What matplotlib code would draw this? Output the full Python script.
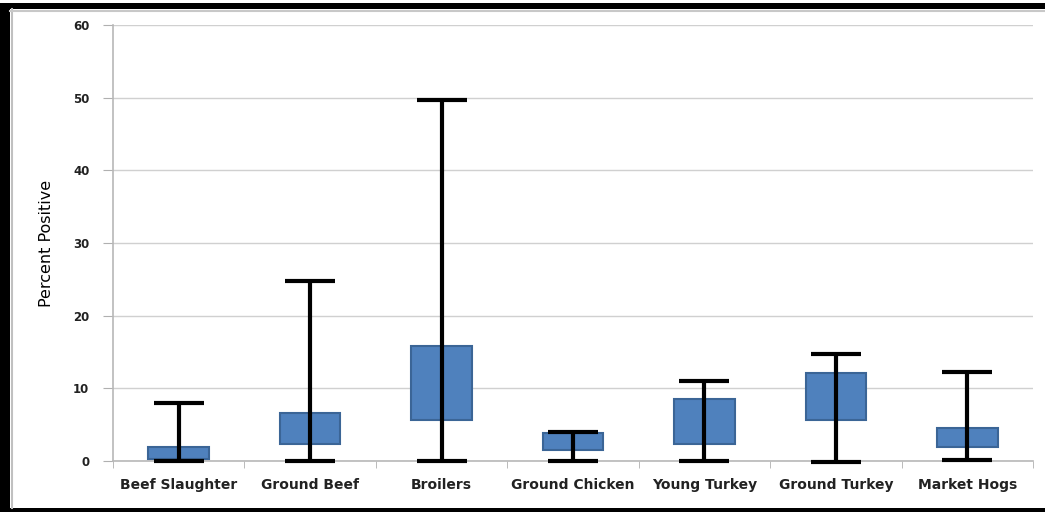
import matplotlib
matplotlib.use("Agg")
import matplotlib.pyplot as plt
from matplotlib.patches import Rectangle
from matplotlib.lines import Line2D

categories = ["Beef Slaughter", "Ground Beef", "Broilers", "Ground Chicken",
              "Young Turkey", "Ground Turkey", "Market Hogs"]
box_low = [0.3, 2.3, 5.6, 1.5, 2.3, 5.7, 1.9]
box_high = [1.9, 6.6, 15.8, 3.8, 8.6, 12.1, 4.6]
whisk_min = [0.0, 0.0, 0.0, 0.0, 0.0, -0.2, 0.2]
whisk_max = [8.0, 24.8, 49.7, 4.0, 11.0, 14.7, 12.2]
yticks = [0, 10, 20, 30, 40, 50, 60]

W, H = 1045, 512
fig = plt.figure(figsize=(W / 100, H / 100), dpi=100)
fig.patch.set_facecolor("white")

ax = fig.add_axes([113 / W, 1 - 461 / H, (1033 - 113) / W, (461 - 25) / H])
ax.set_xlim(-0.5, len(categories) - 0.5)
ax.set_ylim(0, 60)

box_w = 0.46
cap_w = 0.38
for i in range(len(categories)):
    ax.add_patch(Rectangle((i - box_w / 2, box_low[i]), box_w, box_high[i] - box_low[i],
                           facecolor="#4F81BD", edgecolor="#3B6596", linewidth=1.5,
                           zorder=3, clip_on=False))
    ax.plot([i, i], [whisk_min[i], whisk_max[i]], color="black", lw=3.0,
            zorder=4, clip_on=False, solid_capstyle="butt")
    for v in (whisk_min[i], whisk_max[i]):
        ax.plot([i - cap_w / 2, i + cap_w / 2], [v, v], color="black", lw=3.0,
                zorder=4, clip_on=False, solid_capstyle="butt")

ax.set_yticks(yticks)
ax.set_yticklabels([str(t) for t in yticks], fontsize=8.5, fontweight="bold",
                   color="#222222")
ax.yaxis.grid(True, color="#D0D0D0", lw=1)
ax.set_axisbelow(True)

ax.set_xticks(range(len(categories)))
ax.set_xticklabels(categories, fontsize=10, fontweight="bold", color="#222222")
ax.tick_params(axis="x", length=0, pad=12)
ax.set_xticks([i + 0.5 for i in range(-1, len(categories))], minor=True)
ax.tick_params(axis="x", which="minor", length=5, color="#B0B0B0", direction="out")
ax.tick_params(axis="y", length=7, color="#B0B0B0", pad=10)

for s in ("top", "right"):
    ax.spines[s].set_visible(False)
ax.spines["left"].set_color("#B8B8B8")
ax.spines["bottom"].set_color("#B8B8B8")
ax.spines["left"].set_linewidth(1.2)
ax.spines["bottom"].set_linewidth(1.2)

ax.set_ylabel("Percent Positive",
              fontsize=11.5, family=["Liberation Sans Narrow", "DejaVu Sans"],
              labelpad=14)

# outer black frame (left, top, bottom) and inner grey line
fig.patches.append(Rectangle((0, 0), 10 / W, 1 - 3 / H, transform=fig.transFigure,
                             facecolor="black", edgecolor="none"))
fig.patches.append(Rectangle((0, 1 - 9 / H), 1, 6 / H, transform=fig.transFigure,
                             facecolor="black", edgecolor="none"))
fig.patches.append(Rectangle((0, 0), 1, 4 / H, transform=fig.transFigure,
                             facecolor="black", edgecolor="none"))
fig.lines.append(Line2D([11.5 / W, 11.5 / W], [4 / H, 1 - 9 / H],
                        transform=fig.transFigure, color="#C0C0C0", lw=1.5))
fig.lines.append(Line2D([10 / W, 1], [1 - 10.5 / H, 1 - 10.5 / H],
                        transform=fig.transFigure, color="#C8C8C8", lw=1.5))

fig.savefig("out.png", dpi=100)
